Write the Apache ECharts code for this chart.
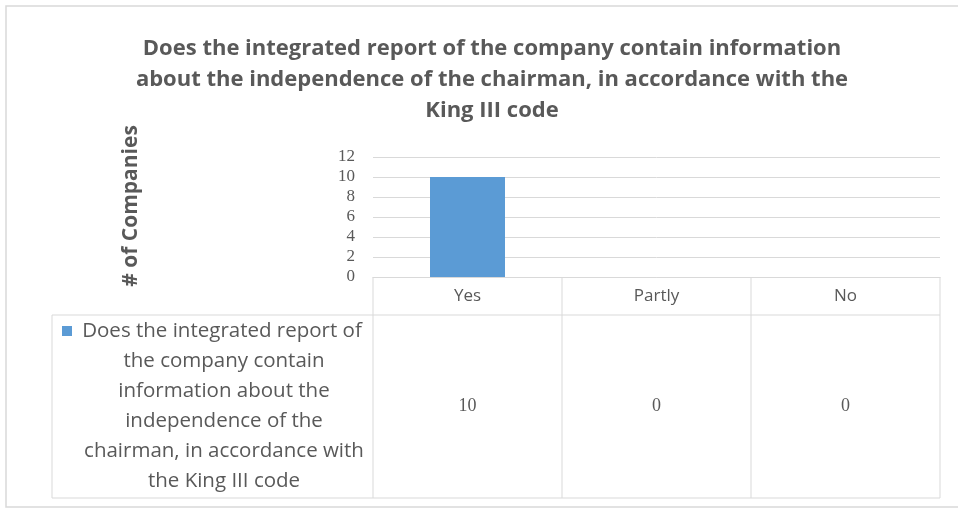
<!DOCTYPE html>
<html><head><meta charset="utf-8">
<script src="https://cdn.jsdelivr.net/npm/echarts@6/dist/echarts.min.js"></script>
<style>html,body{margin:0;padding:0;background:#fff}#c{width:958px;height:509px}</style>
</head><body><div id="c"></div>
<script>
const titleText = 'Does the integrated report of the company contain information\nabout the independence of the chairman, in accordance with the\nKing III code';
const categories = ['Yes', 'Partly', 'No'];
const seriesName = 'Does the integrated report of the company contain information about the independence of the chairman, in accordance with the King III code';
const legendLines = ['Does the integrated report of', 'the company contain', 'information about the', 'independence of the', 'chairman, in accordance with', 'the King III code'];
const values = [10, 0, 0];
const yTicks = { min: 0, max: 12, interval: 2 };
const yAxisName = '# of Companies';

const chart = echarts.init(document.getElementById('c'));
const gray = '#595959', line = '#d9d9d9', blue = '#5b9bd5';
const G = { left: 373, right: 18, top: 157, bottom: 232 };
chart.setOption({
  animation: false,
  title: { text: titleText, left: 487, textAlign: 'center', top: 28, textStyle: { fontFamily: 'Open Sans', fontWeight: 'bold', fontSize: 22, color: gray, lineHeight: 31 } },
  grid: G,
  xAxis: { type: 'category', data: categories, axisTick: { show: false }, axisLine: { lineStyle: { color: line } },
    axisLabel: { margin: 11, fontFamily: 'Open Sans', fontSize: 17, color: gray } },
  yAxis: { type: 'value', min: yTicks.min, max: yTicks.max, interval: yTicks.interval,
    name: yAxisName, nameLocation: 'middle', nameGap: 231, nameRotate: 90,
    nameTextStyle: { fontFamily: 'Open Sans', fontWeight: 'bold', fontSize: 21, color: gray, padding: [0, 0, 0, 22] },
    axisLabel: { margin: 18, fontFamily: 'Liberation Serif', fontSize: 17, color: gray, lineHeight: 16 },
    splitLine: { lineStyle: { color: line } }, axisLine: { show: false }, axisTick: { show: false } },
  series: [{ type: 'bar', name: seriesName, data: values, barWidth: 75, itemStyle: { color: blue } }]
});

// data table
const xs = categories.map((c, i) => chart.convertToPixel({ xAxisIndex: 0 }, i));
const half = (xs.length > 1 ? xs[1] - xs[0] : 190) / 2;
const bounds = [xs[0] - half].concat(xs.map(x => x + half));
const y0 = chart.convertToPixel({ yAxisIndex: 0 }, 0);
const yHead = 315, yBot = 498, xLeft = 52;
const els = [];
els.push({ type: 'rect', shape: { x: 6, y: 6, width: 960, height: 501 }, style: { fill: null, stroke: line, lineWidth: 1.5 }, silent: true });
els.push({ type: 'line', shape: { x1: xLeft, y1: yHead, x2: bounds[bounds.length - 1], y2: yHead }, style: { stroke: line } });
els.push({ type: 'line', shape: { x1: xLeft, y1: yBot, x2: bounds[bounds.length - 1], y2: yBot }, style: { stroke: line } });
els.push({ type: 'line', shape: { x1: xLeft, y1: yHead, x2: xLeft, y2: yBot }, style: { stroke: line } });
bounds.forEach(b => els.push({ type: 'line', shape: { x1: b, y1: y0, x2: b, y2: yBot }, style: { stroke: line } }));
values.forEach((v, i) => els.push({ type: 'text', x: xs[i], y: (yHead + yBot) / 2, style: { text: String(v), fontFamily: 'Liberation Serif', fontSize: 18, fill: gray, align: 'center', verticalAlign: 'middle' } }));
const lh = 30, ly0 = 331, lcx = 224;
legendLines.forEach((t, i) => {
  els.push({ type: 'text', x: lcx + (i === 0 ? -2 : 0), y: ly0 + i * lh, style: { text: t, fontFamily: 'Open Sans', fontSize: 20.5, fill: gray, align: 'center', verticalAlign: 'middle' } });
});
els.push({ type: 'rect', shape: { x: 62, y: ly0 - 5, width: 10, height: 10 }, style: { fill: blue } });
chart.setOption({ graphic: { elements: els } });
</script></body></html>
